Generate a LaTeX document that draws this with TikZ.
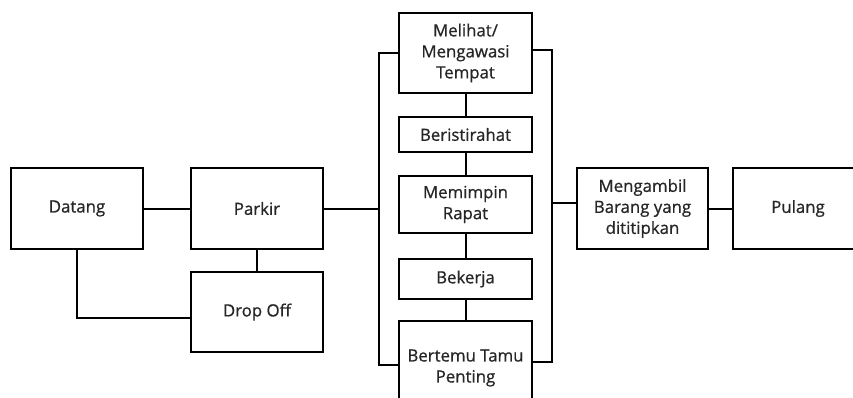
\documentclass[tikz,border=0pt]{standalone}
\usepackage{fontspec}
\setmainfont{Open Sans}
\newfontfamily\boxfont{Open Sans}[FakeBold=0.7]
\usetikzlibrary{calc}
\begin{document}
\begin{tikzpicture}[x=1pt,y=-1pt,
  box/.style={draw=black,line width=2pt,fill=white,inner sep=2pt,align=center,
    font=\boxfont\fontsize{16.8}{21}\selectfont,text=black!85},
  conn/.style={line width=2pt,draw=black}]
\useasboundingbox (0,0) rectangle (853,398);
\clip (0,0) rectangle (853,398);
\fill[white] (0,0) rectangle (853,398);
\coordinate (L) at (379,208.5);
\coordinate (LT) at (379,53);
\coordinate (LB) at (379,365);
\coordinate (RT) at (552,50);
\coordinate (RB) at (552,362);
\coordinate (RM) at (552,203);
\coordinate (DB) at (77,318);
\node[box,minimum width=132pt,minimum height=81pt] (datang) at (77,208.5) {Datang};
\node[box,minimum width=132pt,minimum height=81pt] (parkir) at (257,208.5) {Parkir};
\node[box,minimum width=132pt,minimum height=80pt] (drop) at (257,312) {Drop Off};
\node[box,minimum width=133pt,minimum height=80pt] (melihat) at (465.5,53) {Melihat/\\Mengawasi\\Tempat};
\node[box,minimum width=133pt,minimum height=35pt] (istirahat) at (465.5,134.5) {Beristirahat};
\node[box,minimum width=133pt,minimum height=57pt] (rapat) at (465.5,204.5) {Memimpin\\Rapat};
\node[box,minimum width=133pt,minimum height=40pt] (kerja) at (465.5,279) {Bekerja};
\node[box,minimum width=133pt,minimum height=94pt] (tamu) at (465.5,368) {Bertemu Tamu\\Penting};
\node[box,minimum width=131pt,minimum height=81pt] (ambil) at (642.5,208.5) {Mengambil\\Barang yang\\dititipkan};
\node[box,minimum width=130pt,minimum height=81pt] (pulang) at (798,208.5) {Pulang};
\draw[conn] (datang.east) -- (parkir.west);
\draw[conn] (datang.south) -- (DB) -- (DB -| drop.west);
\draw[conn] (parkir.south) -- (drop.north);
\draw[conn] (parkir.east) -- (L);
\draw[conn] (LT -| melihat.west) -- (LT) -- (LB) -- (LB -| tamu.west);
\draw[conn] (RT -| melihat.east) -- (RT) -- (RB) -- (RB -| tamu.east);
\draw[conn] (RM) -- (RM -| ambil.west);
\draw[conn] (melihat.south) -- (istirahat.north);
\draw[conn] (istirahat.south) -- (rapat.north);
\draw[conn] (rapat.south) -- (kerja.north);
\draw[conn] (kerja.south) -- (tamu.north);
\draw[conn] (ambil.east) -- (pulang.west);
\end{tikzpicture}
\end{document}
